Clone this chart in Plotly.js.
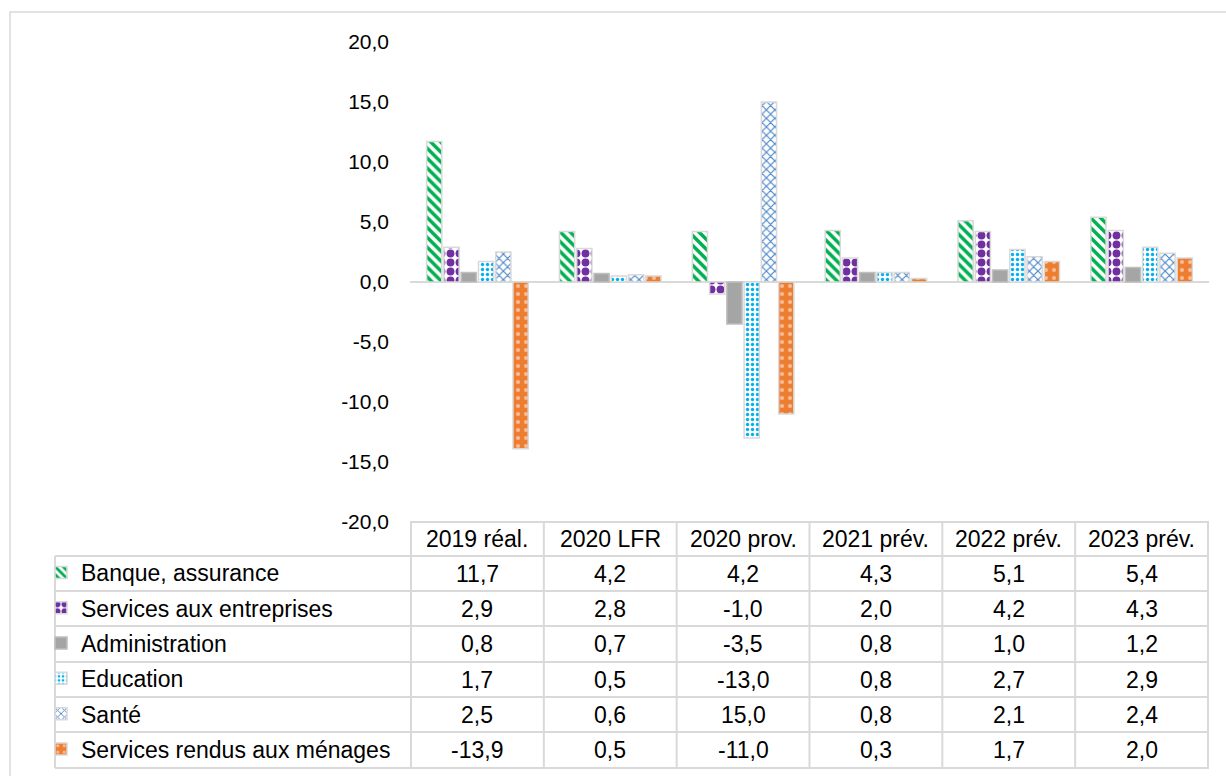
<!DOCTYPE html>
<html>
<head>
<meta charset="utf-8">
<script src="https://cdn.plot.ly/plotly-3.0.1.min.js"></script>
<style>html,body{margin:0;padding:0;background:#fff;}#chart{width:1226px;height:776px;}</style>
</head>
<body>
<div id="chart"></div>
<script>
// ---- data ----
const categories = ["2019 réal.", "2020 LFR", "2020 prov.", "2021 prév.", "2022 prév.", "2023 prév."];
const seriesNames = ["Banque, assurance", "Services aux entreprises", "Administration", "Education", "Santé", "Services rendus aux ménages"];
const banque = [11.7, 4.2, 4.2, 4.3, 5.1, 5.4];
const servicesEntreprises = [2.9, 2.8, -1.0, 2.0, 4.2, 4.3];
const administration = [0.8, 0.7, -3.5, 0.8, 1.0, 1.2];
const education = [1.7, 0.5, -13.0, 0.8, 2.7, 2.9];
const sante = [2.5, 0.6, 15.0, 0.8, 2.1, 2.4];
const menages = [-13.9, 0.5, -11.0, 0.3, 1.7, 2.0];
const yTicks = [-20, -15, -10, -5, 0, 5, 10, 15, 20];

const seriesValues = [banque, servicesEntreprises, administration, education, sante, menages];

// ---- styles ----
const FONT = "Liberation Sans, Arial, sans-serif";
const GRID = "#D9D9D9";
const TXT = 23;
const styles = [
  {color: "#00B050", pattern: {shape: "\\", fillmode: "replace", bgcolor: "#ffffff", size: 7, solidity: 0.5}},
  {color: "#7030A0", pattern: {shape: ".", fillmode: "replace", bgcolor: "#ffffff", size: 9, solidity: 0.6}},
  {color: "#A5A5A5", pattern: null},
  {color: "#00B0F0", pattern: {shape: ".", fillmode: "replace", bgcolor: "#ffffff", size: 5, solidity: 0.35}},
  {color: "#4A86C8", pattern: {shape: "x", fillmode: "replace", bgcolor: "#ffffff", size: 6, solidity: 0.35}},
  {color: "#ED7D31", pattern: {shape: ".", fillmode: "overlay", fgcolor: "#ffffff", size: 8, solidity: 0.2}}
];

const traces = seriesNames.map((name, i) => {
  const m = {color: styles[i].color, line: {color: i === 2 ? "#BFBFBF" : GRID, width: 1.5}};
  if (styles[i].pattern) m.pattern = styles[i].pattern;
  return {type: "bar", name: name, x: categories, y: seriesValues[i], marker: m,
          legendgroup: "g" + i, hoverinfo: "x+y+name"};
});

// pixel -> paper helpers (plot area: x 410..1209, y 42..522)
const L = 410, R = 1209, T = 42, B = 522;
const px = x => (x - L) / (R - L);
const py = y => (B - y) / (B - T);

const rowLines = [556, 591, 626, 662, 697, 732, 768];
const shapes = [];
// outer frame
shapes.push({type: "rect", xref: "paper", yref: "paper", x0: px(10), x1: px(1240), y0: py(12), y1: py(800),
             line: {color: GRID, width: 1.5}});
// header top
shapes.push({type: "line", xref: "paper", yref: "paper", x0: 0, x1: 1, y0: py(522), y1: py(522), line: {color: GRID, width: 2}});
rowLines.forEach(y => shapes.push({type: "line", xref: "paper", yref: "paper", x0: px(55), x1: 1, y0: py(y), y1: py(y), line: {color: GRID, width: 2}}));
// verticals
shapes.push({type: "line", xref: "paper", yref: "paper", x0: px(55), x1: px(55), y0: py(556), y1: py(768), line: {color: GRID, width: 2}});
for (let k = 0; k <= categories.length; k++) {
  shapes.push({type: "line", xref: "x", yref: "paper", x0: k - 0.5, x1: k - 0.5, y0: py(522), y1: py(768), line: {color: GRID, width: 2}});
}

const annotations = [];
const headerY = (522 + 556) / 2;
categories.forEach((c, j) => annotations.push({xref: "x", yref: "paper", x: j, y: py(headerY), text: c, showarrow: false,
  xanchor: "center", yanchor: "middle", font: {family: FONT, size: TXT, color: "#000"}}));
const fmt = v => v.toFixed(1).replace(".", ",");
seriesValues.forEach((vals, i) => {
  const yc = (rowLines[i] + rowLines[i + 1]) / 2;
  vals.forEach((v, j) => annotations.push({xref: "x", yref: "paper", x: j, y: py(yc), text: fmt(v), showarrow: false,
    xanchor: "center", yanchor: "middle", font: {family: FONT, size: TXT, color: "#000"}}));
});

const layout = {
  width: 1226, height: 776,
  margin: {l: L, r: 1226 - R, t: T, b: 776 - B, autoexpand: false},
  paper_bgcolor: "#fff", plot_bgcolor: "#fff",
  font: {family: FONT, size: TXT, color: "#000"},
  barmode: "group", bargap: 0.22, bargroupgap: 0.12,
  showlegend: true,
  legend: {x: px(41), y: py(551), xanchor: "left", yanchor: "top", traceorder: "grouped", tracegroupgap: 2.4,
           font: {family: FONT, size: TXT, color: "#000"}, bgcolor: "rgba(0,0,0,0)", itemclick: false},
  xaxis: {type: "category", showticklabels: false, showgrid: false, zeroline: false, showline: false, ticks: "",
          fixedrange: true},
  yaxis: {range: [-20, 20], tickvals: yTicks, ticktext: yTicks.map(v => fmt(v)), showgrid: false,
          zeroline: true, zerolinecolor: GRID, zerolinewidth: 2, showline: false, ticks: "",
          ticklabelstandoff: 20, tickfont: {family: FONT, size: 21, color: "#000"}, fixedrange: true},
  shapes: shapes,
  annotations: annotations
};

Plotly.newPlot("chart", traces, layout, {displayModeBar: false, staticPlot: true});
</script>
</body>
</html>
